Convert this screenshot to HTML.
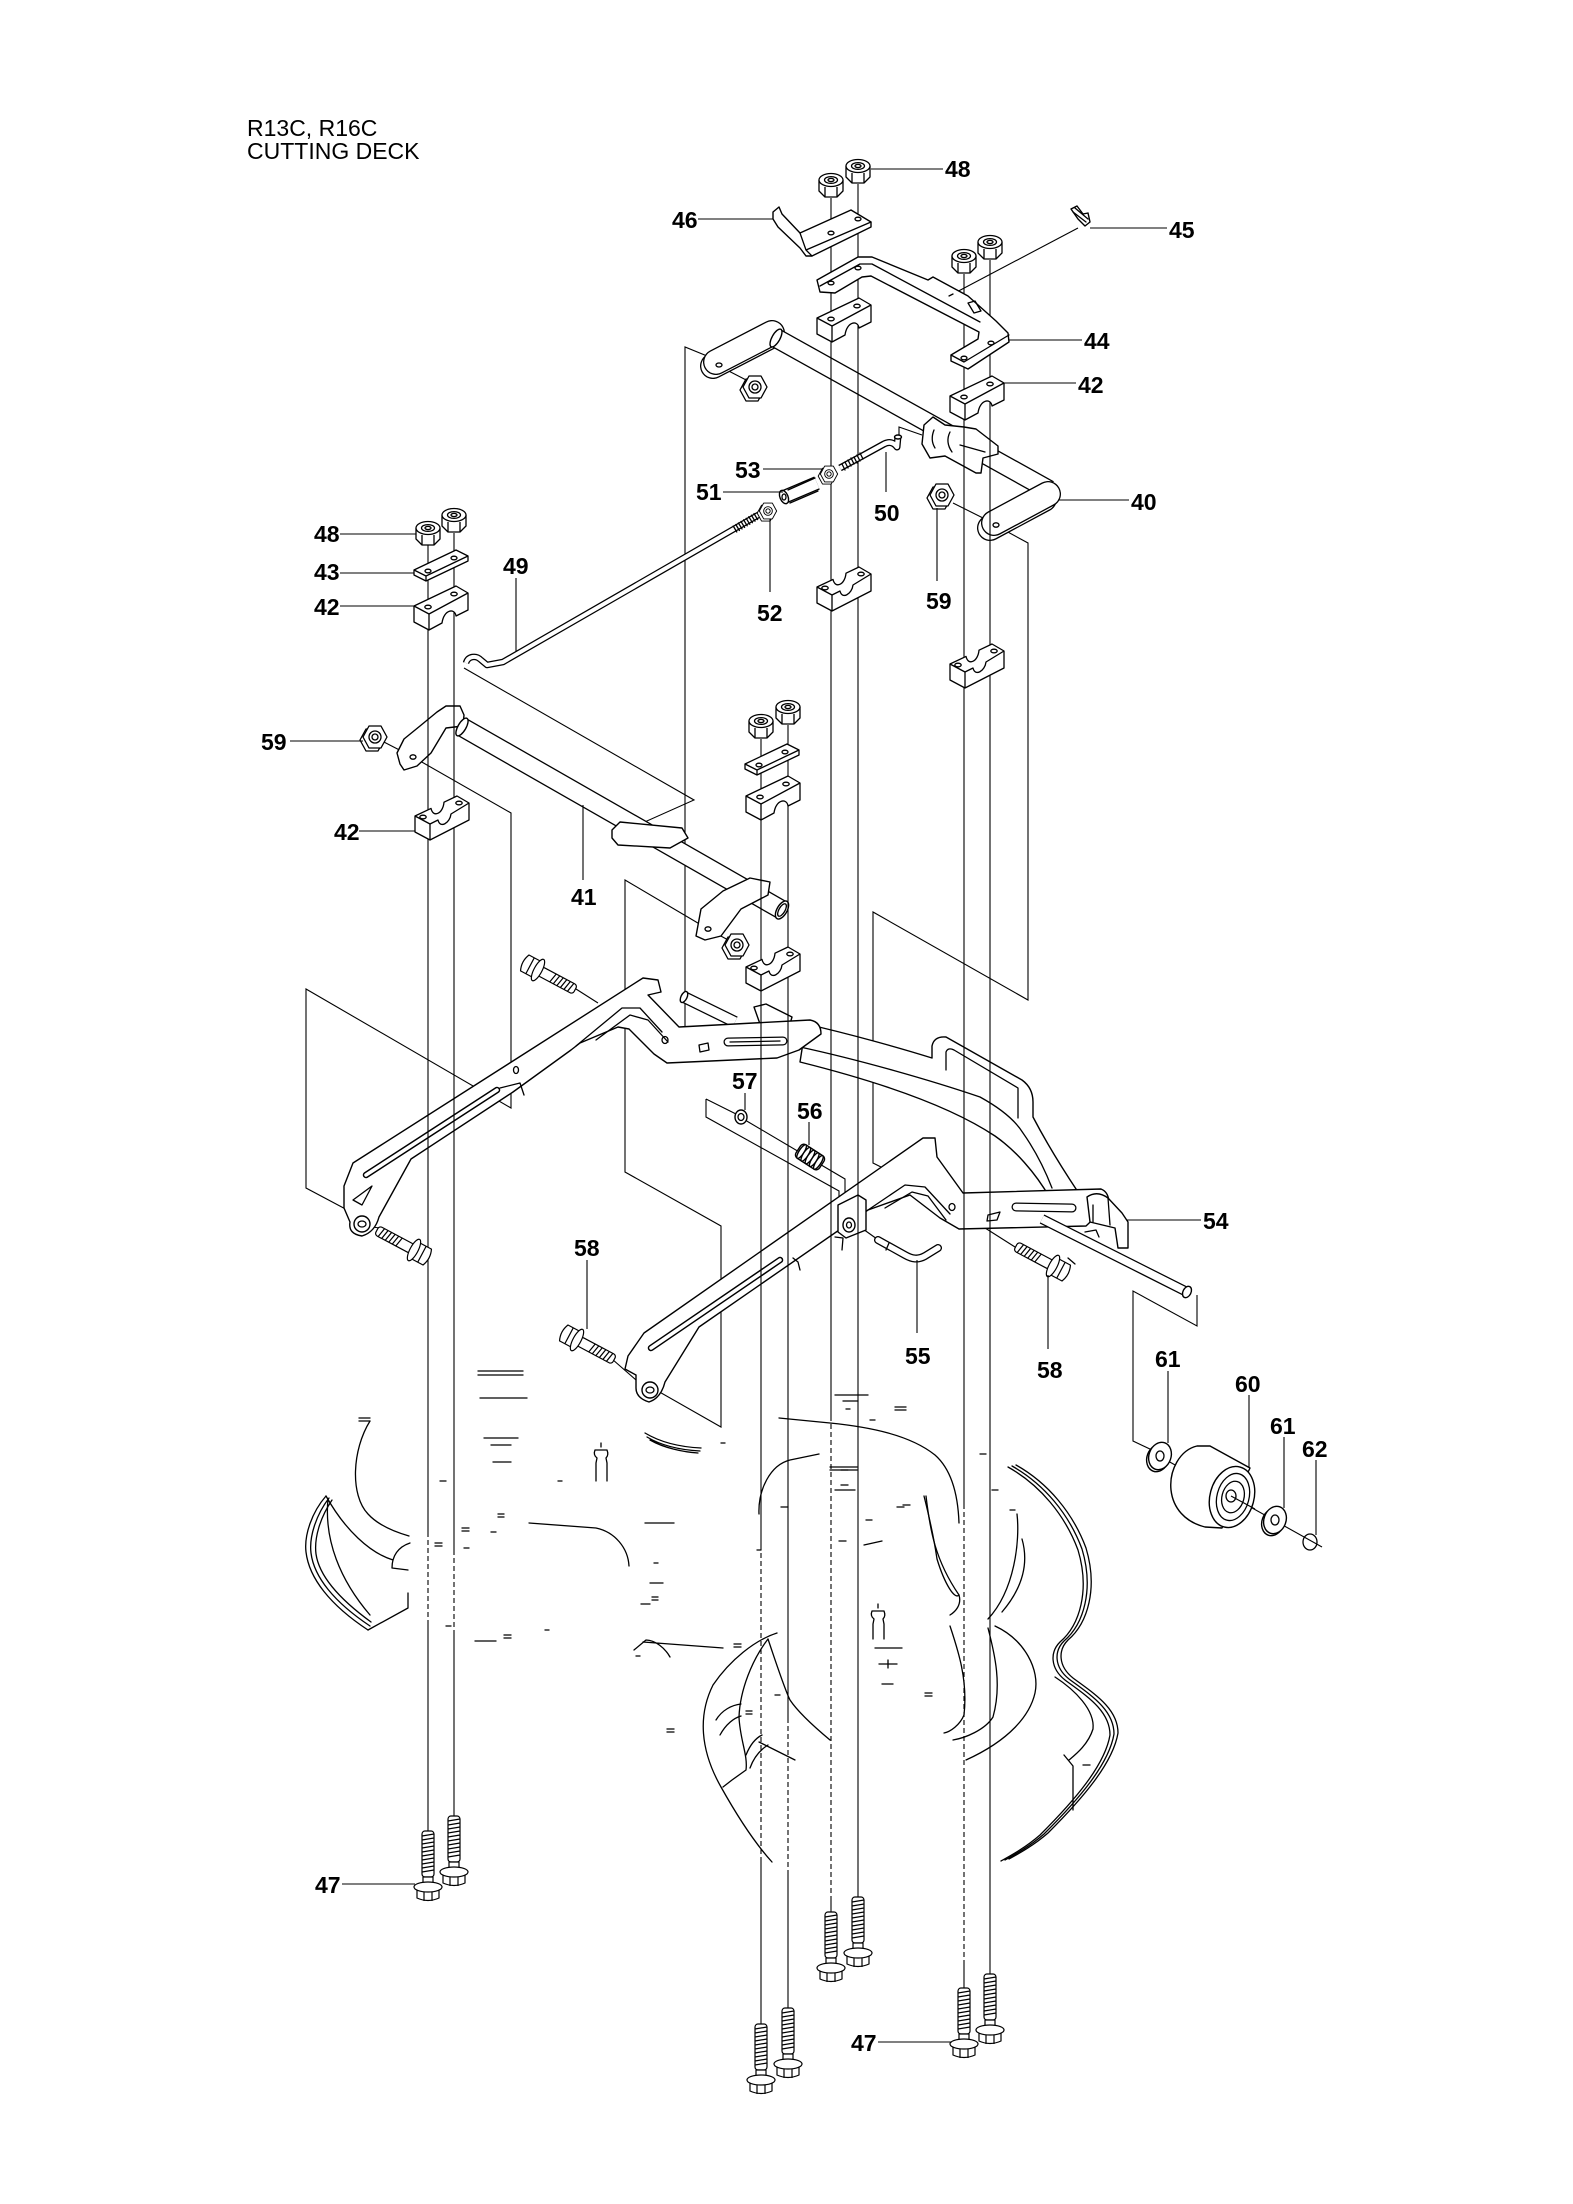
<!DOCTYPE html>
<html><head><meta charset="utf-8">
<style>
html,body{margin:0;padding:0;background:#fff;}
svg{display:block;}
.s{fill:none;stroke:#000;stroke-width:1.3;stroke-linejoin:round;stroke-linecap:round}
.t{fill:none;stroke:#000;stroke-width:1.1}
.w{fill:#fff;stroke:#000;stroke-width:1.4;stroke-linejoin:round}
.d{fill:none;stroke:#000;stroke-width:1.1;stroke-dasharray:5 3}
.lb{font-family:"Liberation Sans",Arial,sans-serif;font-weight:bold;font-size:23px;fill:#000}
.tt{font-family:"Liberation Sans",Arial,sans-serif;font-size:23px;fill:#000}
</style></head><body>
<svg width="1573" height="2204" viewBox="0 0 1573 2204" xmlns="http://www.w3.org/2000/svg">
<defs>
<g id="nu" stroke="#000" stroke-width="1.3" stroke-linejoin="round">
<path d="M-12,-5 L-12,6 L-6,12 L6,12 L12,6 L12,-5 Z" fill="#fff"/>
<path d="M-6,2 V12 M6,2 V12" fill="none"/>
<ellipse cx="0" cy="-5" rx="12" ry="6.5" fill="#fff"/>
<ellipse cx="0" cy="-5" rx="6.5" ry="3.4" fill="#fff"/>
<ellipse cx="0" cy="-5" rx="3" ry="1.6" fill="none"/>
</g>
<g id="hn" stroke="#000" stroke-width="1.3" stroke-linejoin="round" fill="#fff">
<polygon points="-15,3 -9,-8 3,-8 9,3 3,14 -9,14"/>
<polygon points="-12,0 -6,-11 6,-11 12,0 6,11 -6,11"/>
<circle r="6"/>
<circle r="3"/>
</g>
<g id="bd" stroke="#000" stroke-width="1.3" stroke-linejoin="round">
<path d="M0,0 L42,-20 L54,-13 L54,4 L42,10 C41,2 30,3 28,17 L15,24 L0,16 Z" fill="#fff"/>
<path d="M0,0 L15,8 L54,-13 M15,8 V24" fill="none"/>
<ellipse cx="14" cy="1" rx="3.2" ry="1.8" fill="none"/>
<ellipse cx="40" cy="-12" rx="3.2" ry="1.8" fill="none"/>
</g>
<g id="bu" stroke="#000" stroke-width="1.3" stroke-linejoin="round">
<path d="M0,0 L16,-7.6 C18,2 28,-2 29,-13.8 L42,-20 L54,-13 L54,4 L15,24 L0,16 Z" fill="#fff"/>
<path d="M0,0 L15,8 L23,4 C25,13 35,7 36,-2 L54,-13 M15,8 V24" fill="none"/>
<ellipse cx="8" cy="1" rx="3.2" ry="1.8" fill="none"/>
<ellipse cx="44" cy="-13" rx="3.2" ry="1.8" fill="none"/>
</g>
<g id="pl" stroke="#000" stroke-width="1.3" stroke-linejoin="round">
<path d="M0,0 L42,-20 L54,-14 L54,-9 L12,11 L0,5 Z" fill="#fff"/>
<path d="M0,0 L12,6 L54,-14 M12,6 V11" fill="none"/>
<ellipse cx="14" cy="1" rx="3" ry="1.8" fill="none"/>
<ellipse cx="40" cy="-12" rx="3" ry="1.8" fill="none"/>
</g>
<g id="bt" stroke="#000" stroke-width="1.2" stroke-linejoin="round" fill="#fff">
<rect x="-6" y="0" width="12" height="46" rx="3"/>
<path d="M-6,5 L6,3 M-6,9 L6,7 M-6,13 L6,11 M-6,17 L6,15 M-6,21 L6,19 M-6,25 L6,23 M-6,29 L6,27 M-6,33 L6,31 M-6,37 L6,35 M-6,41 L6,39" fill="none"/>
<rect x="-5" y="46" width="10" height="9"/>
<path d="M-11,57 V67 Q0,72 11,67 V57 Z"/>
<ellipse cx="0" cy="56" rx="14" ry="5"/>
<path d="M-4,61 V70 M4,61 V70" fill="none"/>
</g>
<g id="sc" stroke="#000" stroke-width="1.2" stroke-linejoin="round" fill="#fff">
<rect x="2" y="-5" width="40" height="10" rx="3"/>
<path d="M18,-5 L16,5 M22,-5 L20,5 M26,-5 L24,5 M30,-5 L28,5 M34,-5 L32,5 M38,-5 L36,5" fill="none"/>
<path d="M-15,-9 L-2,-9 L-2,9 L-15,9 Q-19,0 -15,-9 Z"/>
<path d="M-9,-9 V9" fill="none"/>
<ellipse cx="0" cy="0" rx="4" ry="12"/>
</g>
</defs>

<!-- title -->
<text class="tt" x="247" y="136">R13C, R16C</text>
<text class="tt" x="247" y="159">CUTTING DECK</text>

<!-- ================= DECK ================= -->
<g class="s" stroke-width="1.1">
<path d="M326,1496 C312,1512 304,1535 306,1552 C309,1578 330,1605 368,1630"/>
<path d="M329,1498 C316,1515 309,1537 311,1553 C314,1577 334,1602 370,1626"/>
<path d="M332,1500 C320,1518 314,1538 316,1554 C319,1575 338,1598 371,1622"/>
<path d="M328,1499 C324,1540 340,1580 370,1615"/>
<path d="M368,1630 L408,1608 L408,1593"/>
<path d="M370,1421 C352,1450 350,1495 368,1514 C378,1525 395,1532 409,1536"/>
<path d="M410,1543 C398,1547 392,1556 392,1568 L408,1570"/>
<path d="M326,1496 C345,1530 370,1553 393,1560"/>
<path d="M529,1523 L596,1528 C615,1532 628,1548 629,1566"/>
<path d="M645,1523 L674,1523"/>
<path d="M645,1433 C660,1442 680,1447 701,1448 M647,1437 C662,1446 682,1450 700,1451 M650,1440 C664,1448 683,1452 698,1453"/>
<path d="M779,1418 L830,1423 C870,1427 910,1435 935,1455 C952,1470 958,1495 959,1523"/>
<path d="M759,1514 C758,1490 770,1465 790,1460 L819,1454"/>
<path d="M924,1496 C930,1520 935,1545 937,1559 C945,1585 955,1600 959,1595"/>
<path d="M864,1545 L882,1541"/>
<path d="M777,1633 C755,1640 730,1660 713,1685 C698,1715 700,1750 721,1787 C735,1812 752,1840 772,1862"/>
<path d="M768,1639 C752,1660 740,1690 739,1717 C740,1740 748,1755 746,1770 L732,1780 L723,1787"/>
<path d="M716,1720 C722,1710 732,1705 741,1704 M720,1735 C726,1724 734,1718 741,1716 M746,1755 C750,1745 756,1738 762,1735 M750,1768 C754,1757 760,1750 768,1745"/>
<path d="M759,1742 L795,1760"/>
<path d="M768,1639 C775,1660 785,1690 790,1700 C798,1712 812,1725 830,1740"/>
<path d="M634,1650 L646,1640 C655,1640 665,1648 670,1657 M643,1642 L723,1648 M636,1656 L640,1656"/>
<path d="M1008,1467 C1040,1485 1065,1515 1078,1550 C1090,1590 1080,1625 1060,1642 C1050,1652 1050,1668 1065,1680 C1085,1695 1110,1710 1110,1735 C1105,1765 1075,1800 1040,1835 C1025,1848 1010,1856 1001,1861"/>
<path transform="translate(4,-1)" d="M1008,1467 C1040,1485 1065,1515 1078,1550 C1090,1590 1080,1625 1060,1642 C1050,1652 1050,1668 1065,1680 C1085,1695 1110,1710 1110,1735 C1105,1765 1075,1800 1040,1835 C1025,1848 1010,1856 1001,1861"/>
<path transform="translate(8,-2)" d="M1008,1467 C1040,1485 1065,1515 1078,1550 C1090,1590 1080,1625 1060,1642 C1050,1652 1050,1668 1065,1680 C1085,1695 1110,1710 1110,1735 C1105,1765 1075,1800 1040,1835 C1025,1848 1010,1856 1001,1861"/>
<path d="M1017,1514 C1020,1540 1015,1590 988,1619"/>
<path d="M1022,1539 C1028,1560 1025,1585 1002,1612"/>
<path d="M995,1626 C1025,1640 1040,1670 1035,1693 C1030,1715 1010,1740 966,1760"/>
<path d="M1055,1677 C1075,1690 1095,1710 1093,1729 C1088,1745 1075,1755 1069,1760"/>
<path d="M926,1496 C930,1530 935,1560 959,1595 C962,1605 955,1612 950,1615"/>
<path d="M950,1626 C958,1650 968,1680 964,1715 C960,1725 950,1732 944,1733"/>
<path d="M988,1628 C995,1655 1002,1685 993,1717 C985,1730 965,1738 953,1740"/>
<path d="M1064,1755 L1073,1766 L1073,1810"/>
<path d="M478,1371 H523 M478,1375 H523 M480,1398 H527 M484,1438 H518 M491,1445 H511 M493,1462 H511"/>
<path d="M601,1443 V1447 M595,1450 H607 M595,1450 Q593,1455 597,1458 L596,1463 V1481 M607,1450 Q609,1455 606,1458 L607,1463 V1481"/>
<path d="M878,1604 V1608 M872,1611 H884 M872,1611 Q870,1616 874,1619 L873,1624 V1639 M884,1611 Q886,1616 883,1619 L884,1624 V1639"/>
<path d="M875,1648 H902 M879,1664 H897 M882,1684 H893 M888,1660 V1668"/>
<path d="M830,1467 H857 M830,1470 H857 M835,1490 H855 M835,1395 H868 M843,1401 H858"/>
<path d="M359,1418 h11 M359,1421 h11 M440,1481 h6 M558,1481 h4 M498,1514 h6 M498,1517 h6 M491,1532 h5 M462,1528 h7 M462,1531 h7 M435,1543 h7 M435,1546 h7 M464,1548 h5 M654,1563 h4 M650,1583 h13 M652,1597 h6 M652,1600 h6 M641,1604 h9 M446,1626 h5 M475,1641 h21 M504,1635 h7 M504,1638 h7 M545,1630 h4 M667,1729 h7 M667,1732 h7 M734,1644 h7 M734,1647 h7 M746,1711 h6 M746,1714 h6 M781,1507 h7 M839,1541 h7 M897,1507 h7 M841,1470 h7 M841,1485 h7 M870,1420 h5 M846,1409 h4 M895,1407 h11 M895,1410 h11 M721,1443 h4 M757,1550 h4 M775,1695 h5 M1010,1510 h5 M980,1454 h6 M992,1490 h6 M903,1505 h7 M1083,1765 h7 M866,1520 h6 M925,1693 h7 M925,1696 h7"/>
</g>

<!-- ================= GUIDE LINES ================= -->
<g class="t">
<path d="M712,358 L685,347 L685,1054 L665,1043"/>
<path d="M464,668 L694,800 L620,833"/>
<path d="M413,757 L511,813 L511,1108 L306,989 L306,1188 L353,1213"/>
<path d="M708,929 L625,880 L625,1172 L721,1226 L721,1427 L656,1390"/>
<path d="M995,525 L1028,543 L1028,1000 L873,912 L873,1163 L887,1170"/>
<path d="M706,1099 L736,1114 M706,1099 L706,1117 L839,1191 L839,1232 M745,1120 L845,1179 L845,1233"/>
<path d="M1197,1295 L1197,1326 L1133,1291 L1133,1441 L1152,1450"/>
<path d="M1078,228 L951,295"/>
<path d="M719,366 L750,382 M380,740 L413,757 M953,503 L983,518 M708,929 L730,941"/>
<path d="M576,989 L598,1003 M612,1359 L636,1380 M952,1207 L1015,1247 M856,1224 L877,1239 M364,1226 L380,1228"/>
<path d="M899,437 L899,427 L922,435"/>
</g>

<!-- ================= TUBES / RODS / FRAME ================= -->
<!-- 40 left plate -->
<path d="M713,366 L769,337" stroke="#000" stroke-width="26" stroke-linecap="round" fill="none"/>
<path d="M713,366 L769,337" stroke="#fff" stroke-width="23.4" stroke-linecap="round" fill="none"/>
<path d="M716,362 L772,333" stroke="#000" stroke-width="26" stroke-linecap="round" fill="none"/>
<path d="M716,362 L772,333" stroke="#fff" stroke-width="23.4" stroke-linecap="round" fill="none"/>
<ellipse cx="719" cy="365" rx="3" ry="2" class="s"/>
<!-- 40 tube -->
<path d="M776,338 L1049,490" stroke="#000" stroke-width="20" fill="none"/>
<path d="M776,338 L1049,490" stroke="#fff" stroke-width="17.4" fill="none"/>
<ellipse cx="776" cy="338" rx="4" ry="10" transform="rotate(29 776 338)" class="w"/>
<path class="w" d="M924,425 L933,417 L945,425 L964,427 L976,429 L998,446 L998,454 L983,458 L981,473 L976,473 L945,456 L930,458 L922,444 Z"/>
<path class="s" d="M934,430 Q930,440 935,448 M950,432 Q945,442 952,452 M960,445 L985,452"/>
<!-- 40 right plate -->
<path d="M990,528 L1044,499" stroke="#000" stroke-width="26" stroke-linecap="round" fill="none"/>
<path d="M990,528 L1044,499" stroke="#fff" stroke-width="23.4" stroke-linecap="round" fill="none"/>
<path d="M994,523 L1048,494" stroke="#000" stroke-width="26" stroke-linecap="round" fill="none"/>
<path d="M994,523 L1048,494" stroke="#fff" stroke-width="23.4" stroke-linecap="round" fill="none"/>
<ellipse cx="996" cy="525" rx="3" ry="2.2" class="s"/>

<!-- 41 left lever -->
<path class="w" d="M400,764 L397,753 L404,739 L420,726 L437,712 L446,706 L460,706 L464,715 L463,726 L446,728 L431,753 L417,766 L404,770 Z"/>
<ellipse cx="413" cy="757" rx="3" ry="2.2" class="s"/>
<!-- 41 tube -->
<path d="M462,727 L782,910" stroke="#000" stroke-width="20" fill="none"/>
<path d="M462,727 L782,910" stroke="#fff" stroke-width="17.4" fill="none"/>
<ellipse cx="462" cy="727" rx="4" ry="10" transform="rotate(30 462 727)" class="w"/>
<ellipse cx="782" cy="910" rx="5" ry="10" transform="rotate(30 782 910)" class="w"/>
<ellipse cx="782" cy="910" rx="3" ry="7" transform="rotate(30 782 910)" class="s"/>
<path class="w" d="M612,830 L620,822 L682,828 L688,838 L670,848 L618,845 L612,838 Z"/>
<path class="w" d="M696,936 L701,909 L723,891 L750,878 L770,882 L768,895 L741,909 L721,936 L705,940 Z"/>
<ellipse cx="708" cy="929" rx="3" ry="2.2" class="s"/>

<!-- rod 49 -->
<path d="M466,663 C468,656 476,655 481,660 L487,665 L503,662 L760,514" stroke="#000" stroke-width="6.5" fill="none" stroke-linejoin="round"/>
<path d="M466,663 C468,656 476,655 481,660 L487,665 L503,662 L760,514" stroke="#fff" stroke-width="4" fill="none" stroke-linejoin="round"/>
<path class="s" stroke-width="1" d="M733.2,526 L736.8,532 M735.8,524.5 L739.4,530.5 M738.4,522.9 L742,528.9 M741,521.4 L744.6,527.4 M743.6,519.8 L747.2,525.8 M746.2,518.3 L749.8,524.3 M748.8,516.7 L752.4,522.7 M751.4,515.2 L755,521.2 M754,513.6 L757.6,519.6"/>

<!-- curved frame -->
<path class="w" d="M806,1024 C850,1034 900,1048 932,1058 L932,1046 Q934,1036 946,1037 L1022,1080 Q1033,1088 1033,1102 L1033,1117 C1045,1140 1060,1165 1078,1192 L1050,1198 C1035,1172 1015,1150 995,1136 C950,1106 880,1082 800,1062 Z"/>
<path class="s" stroke-width="1" d="M946,1070 L946,1052 Q948,1047 954,1050 L1018,1088 L1018,1118 M800,1047 C860,1060 930,1080 980,1097 C1000,1108 1015,1120 1023,1133 C1035,1150 1045,1170 1052,1188"/>
<!-- pivot tube behind left arm -->
<path d="M684,997 L735,1022" stroke="#000" stroke-width="12" fill="none"/>
<path d="M684,997 L735,1022" stroke="#fff" stroke-width="9.5" fill="none"/>
<ellipse cx="684" cy="997" rx="3" ry="6" transform="rotate(26 684 997)" class="w"/>
<path class="w" d="M754,1007 L766,1004 L792,1017 L790,1024 L760,1024 Z"/>

<!-- LEFT ARM -->
<path class="w" d="M353,1163 L643,978 L658,980 L661,992 L648,995 L679,1027 L810,1020 Q821,1022 821,1034 L799,1050 L777,1058 L667,1063 L654,1054 L629,1029 L618,1027 L580,1043 L571,1050 L513,1092 L411,1159 L379,1217 Q375,1232 362,1236 Q348,1234 350,1222 L344,1208 L344,1186 Z"/>
<path d="M366,1175 L497,1090" stroke="#000" stroke-width="6.5" stroke-linecap="round" fill="none"/>
<path d="M366,1175 L497,1090" stroke="#fff" stroke-width="3.5" stroke-linecap="round" fill="none"/>
<path class="s" stroke-width="1" d="M576,1046 L622,1008 L640,1008 L662,1032 M596,1040 L630,1015 L648,1020 L668,1042 M353,1200 L372,1186 L362,1205 Z M500,1088 L520,1083 L524,1095"/>
<circle cx="362" cy="1224" r="8" class="w"/>
<ellipse cx="362" cy="1224" rx="4" ry="3" class="s"/>
<path d="M728,1042 L783,1041" stroke="#000" stroke-width="9" stroke-linecap="round" fill="none"/>
<path d="M728,1042 L783,1041" stroke="#fff" stroke-width="6.5" stroke-linecap="round" fill="none"/>
<path class="s" stroke-width="1" d="M730,1042 L780,1041 M699,1045 L708,1043 L709,1050 L700,1052 Z"/>
<ellipse cx="665" cy="1040" rx="3" ry="3.5" class="s"/>
<ellipse cx="516" cy="1070" rx="2.5" ry="3.5" class="s"/>

<!-- RIGHT ARM -->
<path class="w" d="M644,1333 L923,1138 L935,1138 L937,1157 L963,1193 L1101,1189 Q1109,1192 1109,1204 L1086,1226 L959,1229 L940,1218 L910,1195 L868,1210 L699,1327 L665,1382 Q661,1398 649,1402 Q636,1398 636,1388 L636,1375 L625,1369 L628,1356 Z"/>
<path d="M651,1348 L780,1260" stroke="#000" stroke-width="6.5" stroke-linecap="round" fill="none"/>
<path d="M651,1348 L780,1260" stroke="#fff" stroke-width="3.5" stroke-linecap="round" fill="none"/>
<path class="s" stroke-width="1" d="M868,1210 L905,1185 L925,1187 L950,1214 M885,1208 L912,1192 L928,1196 L946,1220 M835,1237 L843,1238 L842,1250 M793,1258 L798,1262 L800,1270"/>
<circle cx="650" cy="1390" r="8" class="w"/>
<ellipse cx="650" cy="1390" rx="4" ry="3" class="s"/>
<path d="M1016,1207 L1072,1208" stroke="#000" stroke-width="9" stroke-linecap="round" fill="none"/>
<path d="M1016,1207 L1072,1208" stroke="#fff" stroke-width="6.5" stroke-linecap="round" fill="none"/>
<path class="s" stroke-width="1" d="M988,1215 L1000,1212 L997,1220 L987,1221 Z"/>
<ellipse cx="952" cy="1207" rx="3" ry="3.5" class="s"/>
<!-- link -->
<path class="w" d="M838,1205 L858,1195 L866,1200 L866,1230 L846,1238 L838,1232 Z"/>
<ellipse cx="849" cy="1225" rx="6" ry="7" class="w"/>
<ellipse cx="849" cy="1225" rx="2.5" ry="3" class="s"/>
<!-- 54 -->
<path d="M1042,1219 L1187,1292" stroke="#000" stroke-width="10" fill="none"/>
<path d="M1042,1219 L1187,1292" stroke="#fff" stroke-width="7.5" fill="none"/>
<ellipse cx="1187" cy="1292" rx="4" ry="6" transform="rotate(27 1187 1292)" class="w"/>
<path class="w" d="M1087,1197 Q1097,1190 1108,1198 L1122,1213 L1128,1222 L1128,1248 L1118,1248 L1115,1228 L1090,1222 Z"/>
<path class="s" stroke-width="1" d="M1093,1222 L1093,1205 M1108,1198 L1110,1225 M1085,1232 L1096,1230 L1099,1237 M1068,1258 L1075,1264"/>

<!-- ================= VERTICAL BOLT LINES ================= -->
<g class="t">
<path d="M428,545 V1532 M428,1625 V1831"/>
<path d="M428,1532 V1625" class="d"/>
<path d="M454,533 V1550 M454,1635 V1816"/>
<path d="M454,1550 V1635" class="d"/>
<path d="M761,739 V1545 M761,1860 V2024"/>
<path d="M761,1545 V1860" class="d"/>
<path d="M788,725 V1718 M788,1875 V2008"/>
<path d="M788,1718 V1875" class="d"/>
<path d="M831,198 V1416 M831,1897 V1912"/>
<path d="M831,1416 V1897" class="d"/>
<path d="M858,184 V1897"/>
<path d="M964,274 V1504 M964,1960 V1988"/>
<path d="M964,1504 V1960" class="d"/>
<path d="M990,260 V1974"/>
</g>

<!-- ================= SMALL PARTS ================= -->
<!-- 46 -->
<path class="w" d="M773,212 L779,207 L782,214 L800,233 L851,210 L871,222 L871,227 L812,256 L806,256 L800,248 L778,227 L773,219 Z"/>
<path class="s" stroke-width="1" d="M800,233 L806,250 L812,256 M806,250 L871,222"/>
<ellipse cx="831" cy="233" rx="3" ry="1.8" class="s"/>
<ellipse cx="858" cy="219" rx="3" ry="1.8" class="s"/>
<!-- 44 -->
<path class="w" d="M817,280 L858,257 L872,257 L928,280 L933,277 L968,296 L996,321 L1008,333 L1009,342 L968,369 L951,361 L951,355 L978,339 L979,332 L871,276 L862,277 L835,293 L820,292 Z"/>
<path class="s" stroke-width="1" d="M820,286 L860,264 L872,264 L980,322 M951,355 L964,362 L1009,335 M968,303 L975,301 L981,311 L974,313 Z M949,296 L953,294"/>
<ellipse cx="831" cy="283" rx="3" ry="1.8" class="s"/>
<ellipse cx="858" cy="268" rx="3" ry="1.8" class="s"/>
<ellipse cx="964" cy="358" rx="3" ry="1.8" class="s"/>
<ellipse cx="991" cy="343" rx="3" ry="1.8" class="s"/>
<!-- 45 pin -->
<path class="w" d="M1071,209 L1077,206 L1083,214 L1088,213 L1090,222 L1085,226 L1078,219 Z"/>
<path class="s" stroke-width="1" d="M1073,212 L1086,222 M1075,208 L1088,219"/>

<!-- blocks -->
<use href="#bd" x="817" y="318"/>
<use href="#bd" x="950" y="396"/>
<use href="#bu" x="817" y="587"/>
<use href="#bu" x="950" y="664"/>
<use href="#bd" x="414" y="606"/>
<use href="#bu" x="415" y="816"/>
<use href="#bd" x="746" y="796"/>
<use href="#bu" x="746" y="967"/>
<!-- plates -->
<use href="#pl" x="414" y="570"/>
<use href="#pl" x="745" y="764"/>
<!-- nuts -->
<use href="#nu" x="831" y="185"/>
<use href="#nu" x="858" y="171"/>
<use href="#nu" x="964" y="261"/>
<use href="#nu" x="990" y="247"/>
<use href="#nu" x="428" y="533"/>
<use href="#nu" x="454" y="520"/>
<use href="#nu" x="761" y="726"/>
<use href="#nu" x="788" y="712"/>
<use href="#hn" x="942" y="495"/>
<use href="#hn" x="375" y="737"/>
<use href="#hn" x="755" y="387"/>
<use href="#hn" x="737" y="945"/>

<!-- 51,52,53,50 -->
<path d="M784,497 L817,483" stroke="#000" stroke-width="14" fill="none"/>
<path d="M784,497 L817,483" stroke="#fff" stroke-width="11.4" fill="none"/>
<ellipse cx="784" cy="497" rx="4" ry="7" transform="rotate(-23 784 497)" class="w"/>
<ellipse cx="784" cy="497" rx="2" ry="3" class="s"/>
<path class="s" stroke-width="1" d="M788,490 L815,478 M790,503 L818,491"/>
<g transform="translate(768,511) scale(0.72)"><use href="#hn"/></g>
<g transform="translate(829,474) scale(0.72)"><use href="#hn"/></g>
<path d="M840,468 L864,455 L884,444 Q892,440 897,447 L898,436" stroke="#000" stroke-width="7" fill="none" stroke-linejoin="round"/>
<path d="M840,468 L864,455 L884,444 Q892,440 897,447 L898,436" stroke="#fff" stroke-width="4.4" fill="none" stroke-linejoin="round"/>
<ellipse cx="898" cy="437" rx="3.5" ry="2" class="w"/>
<path class="s" stroke-width="1" d="M842,464 L845,470 M845,462 L848,468 M848,460 L851,466 M851,458 L854,464 M854,457 L857,463 M857,455 L860,461 M860,453 L863,459"/>

<!-- screws -->
<use href="#sc" transform="translate(538,970) rotate(28)"/>
<use href="#sc" transform="translate(414,1250) rotate(208)"/>
<use href="#sc" transform="translate(577,1340) rotate(28)"/>
<use href="#sc" transform="translate(1053,1266) rotate(208)"/>

<!-- 57 ring, 56 spring, 55 pin -->
<ellipse cx="741" cy="1117" rx="6" ry="7" class="w"/>
<ellipse cx="741" cy="1117" rx="3" ry="3.5" class="s"/>
<g transform="translate(810,1157) rotate(33)" class="w" stroke-width="1.2">
<rect x="-14" y="-8" width="28" height="16" rx="4"/>
<ellipse cx="-10" cy="0" rx="2.5" ry="8"/>
<ellipse cx="-5" cy="0" rx="2.5" ry="8"/>
<ellipse cx="0" cy="0" rx="2.5" ry="8"/>
<ellipse cx="5" cy="0" rx="2.5" ry="8"/>
<ellipse cx="10" cy="0" rx="2.5" ry="8"/>
</g>
<path d="M878,1240 L905,1255 C912,1259 918,1260 925,1256 L938,1248" stroke="#000" stroke-width="8" fill="none" stroke-linejoin="round" stroke-linecap="round"/>
<path d="M878,1240 L905,1255 C912,1259 918,1260 925,1256 L938,1248" stroke="#fff" stroke-width="5.4" fill="none" stroke-linejoin="round" stroke-linecap="round"/>
<path class="s" stroke-width="1" d="M889,1243 L886,1250"/>

<!-- wheel group -->
<path class="t" d="M1159,1456 L1322,1547"/>
<ellipse cx="1158" cy="1458" rx="11" ry="14" transform="rotate(20 1158 1458)" class="w"/>
<ellipse cx="1160" cy="1456" rx="11" ry="14" transform="rotate(20 1160 1456)" class="w"/>
<ellipse cx="1160" cy="1456" rx="4" ry="5" class="s"/>
<path class="w" d="M1197,1446 C1180,1450 1169,1470 1171,1490 C1173,1508 1185,1522 1205,1527 L1222,1528 L1250,1468 L1210,1446 Z"/>
<ellipse cx="1232" cy="1497" rx="22" ry="31" transform="rotate(15 1232 1497)" class="w"/>
<ellipse cx="1233" cy="1497" rx="16" ry="24" transform="rotate(15 1233 1497)" class="s"/>
<ellipse cx="1233" cy="1497" rx="11" ry="16" transform="rotate(15 1233 1497)" class="s"/>
<ellipse cx="1231" cy="1496" rx="5" ry="6" class="s"/>
<path class="t" d="M1231,1496 L1255,1509"/>
<ellipse cx="1273" cy="1522" rx="11" ry="14" transform="rotate(20 1273 1522)" class="w"/>
<ellipse cx="1275" cy="1520" rx="11" ry="14" transform="rotate(20 1275 1520)" class="w"/>
<ellipse cx="1275" cy="1520" rx="4" ry="5" class="s"/>
<ellipse cx="1310" cy="1542" rx="7" ry="8" class="s"/>

<!-- bolts 47 -->
<use href="#bt" x="428" y="1831"/>
<use href="#bt" x="454" y="1816"/>
<use href="#bt" x="761" y="2024"/>
<use href="#bt" x="788" y="2008"/>
<use href="#bt" x="831" y="1912"/>
<use href="#bt" x="858" y="1897"/>
<use href="#bt" x="964" y="1988"/>
<use href="#bt" x="990" y="1974"/>

<!-- ================= LEADERS ================= -->
<g class="t" stroke-width="1.2">
<path d="M871,169 H943"/>
<path d="M698,219 H773"/>
<path d="M1090,228 H1167"/>
<path d="M1009,340 H1082"/>
<path d="M1003,383 H1076"/>
<path d="M763,469 H822"/>
<path d="M723,492 H783"/>
<path d="M886,452 V492"/>
<path d="M1058,500 H1129"/>
<path d="M770,519 V592"/>
<path d="M937,508 V581"/>
<path d="M340,534 H416"/>
<path d="M340,573 H414"/>
<path d="M340,606 H414"/>
<path d="M516,578 V652"/>
<path d="M290,741 H363"/>
<path d="M359,831 H415"/>
<path d="M583,805 V880"/>
<path d="M745,1093 V1110"/>
<path d="M809,1122 V1145"/>
<path d="M1127,1220 H1201"/>
<path d="M587,1260 V1329"/>
<path d="M917,1260 V1333"/>
<path d="M1048,1275 V1349"/>
<path d="M1168,1371 V1443"/>
<path d="M1249,1395 V1467"/>
<path d="M1284,1437 V1508"/>
<path d="M1316,1460 V1535"/>
<path d="M342,1884 H415"/>
<path d="M878,2042 H952"/>
</g>

<!-- ================= LABELS ================= -->
<g class="lb">
<text x="945" y="177">48</text>
<text x="672" y="228">46</text>
<text x="1169" y="238">45</text>
<text x="1084" y="349">44</text>
<text x="1078" y="393">42</text>
<text x="735" y="478">53</text>
<text x="696" y="500">51</text>
<text x="874" y="521">50</text>
<text x="1131" y="510">40</text>
<text x="757" y="621">52</text>
<text x="926" y="609">59</text>
<text x="314" y="542">48</text>
<text x="314" y="580">43</text>
<text x="314" y="615">42</text>
<text x="503" y="574">49</text>
<text x="261" y="750">59</text>
<text x="334" y="840">42</text>
<text x="571" y="905">41</text>
<text x="732" y="1089">57</text>
<text x="797" y="1119">56</text>
<text x="1203" y="1229">54</text>
<text x="574" y="1256">58</text>
<text x="905" y="1364">55</text>
<text x="1037" y="1378">58</text>
<text x="1155" y="1367">61</text>
<text x="1235" y="1392">60</text>
<text x="1270" y="1434">61</text>
<text x="1302" y="1457">62</text>
<text x="315" y="1893">47</text>
<text x="851" y="2051">47</text>
</g>
</svg>
</body></html>
